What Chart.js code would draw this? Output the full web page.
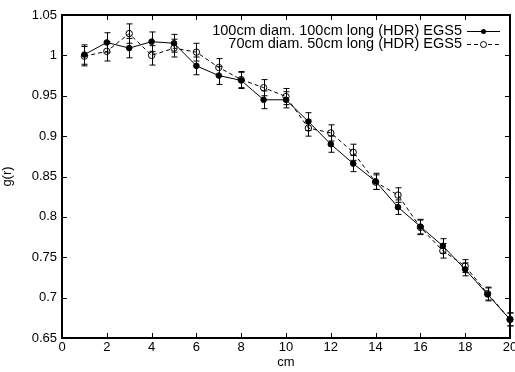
<!DOCTYPE html>
<html>
<head>
<meta charset="utf-8">
<script src="https://cdn.jsdelivr.net/npm/chart.js@4/dist/chart.umd.min.js"></script>
<style>
  html, body { margin: 0; padding: 0; background: #fff; }
  #wrap { width: 515px; height: 372px; }
</style>
</head>
<body>
<div id="wrap"><canvas id="gr"></canvas></div>
<script>
const distances = [1, 2, 3, 4, 5, 6, 7, 8, 9, 10, 11, 12, 13, 14, 15, 16, 17, 18, 19, 20];
const g100 = [1.001, 1.016, 1.009, 1.017, 1.015, 0.987, 0.975, 0.969, 0.945, 0.945,
              0.918, 0.890, 0.866, 0.844, 0.812, 0.788, 0.764, 0.735, 0.704, 0.673];
const err100 = [0.012, 0.012, 0.012, 0.012, 0.011, 0.011, 0.011, 0.010, 0.011, 0.010,
                0.011, 0.010, 0.010, 0.010, 0.009, 0.009, 0.009, 0.008, 0.008, 0.008];
const g70 = [0.999, 1.005, 1.027, 1.000, 1.009, 1.004, 0.985, 0.970, 0.960, 0.949,
             0.910, 0.904, 0.880, 0.843, 0.827, 0.787, 0.758, 0.739, 0.705, 0.673];
const err70 = [0.012, 0.012, 0.012, 0.012, 0.011, 0.011, 0.011, 0.010, 0.010, 0.010,
               0.010, 0.010, 0.010, 0.009, 0.009, 0.009, 0.009, 0.008, 0.008, 0.008];
const xTicks = [0, 2, 4, 6, 8, 10, 12, 14, 16, 18, 20];
const yTicks = ['0.65', '0.7', '0.75', '0.8', '0.85', '0.9', '0.95', '1', '1.05'];
const seriesNames = ['100cm diam. 100cm long (HDR) EGS5', '70cm diam. 50cm long (HDR) EGS5'];

const FONT = 'Liberation Sans, Arial, sans-serif';
const INK = '#000';

// error bars drawn through the chart's scales
const errorBars = {
  id: 'errorBars',
  afterDatasetsDraw(chart) {
    const ctx = chart.ctx;
    const xs = chart.scales.x, ys = chart.scales.y;
    const errs = [err100, err70];
    ctx.save();
    ctx.strokeStyle = INK;
    ctx.lineWidth = 1;
    chart.data.datasets.forEach((ds, d) => {
      ds.data.forEach((p, i) => {
        const px = Math.round(xs.getPixelForValue(p.x)) + 0.5;
        const top = ys.getPixelForValue(p.y + errs[d][i]);
        const bot = ys.getPixelForValue(p.y - errs[d][i]);
        ctx.beginPath();
        ctx.moveTo(px, top); ctx.lineTo(px, bot);
        ctx.moveTo(px - 3, top); ctx.lineTo(px + 3, top);
        ctx.moveTo(px - 3, bot); ctx.lineTo(px + 3, bot);
        ctx.stroke();
      });
    });
    ctx.restore();
  }
};

// gnuplot style frame with inward ticks on all sides, plus the key
const frame = {
  id: 'frame',
  afterDraw(chart) {
    const ctx = chart.ctx;
    const a = chart.chartArea;
    const xs = chart.scales.x, ys = chart.scales.y;
    ctx.save();
    ctx.strokeStyle = INK;
    ctx.lineWidth = 1;
    ctx.beginPath();
    xTicks.forEach(v => {
      const px = Math.round(xs.getPixelForValue(v)) + 0.5;
      ctx.moveTo(px, a.bottom); ctx.lineTo(px, a.bottom - 5);
      ctx.moveTo(px, a.top); ctx.lineTo(px, a.top + 5);
    });
    yTicks.forEach(t => {
      const py = Math.round(ys.getPixelForValue(parseFloat(t))) + 0.5;
      ctx.moveTo(a.left, py); ctx.lineTo(a.left + 5, py);
      ctx.moveTo(a.right, py); ctx.lineTo(a.right - 5, py);
    });
    ctx.stroke();
    ctx.lineWidth = 2;
    ctx.strokeRect(a.left, a.top, a.right - a.left, a.bottom - a.top);

    // key
    ctx.font = '14.5px ' + FONT;
    ctx.fillStyle = INK;
    ctx.textAlign = 'right';
    ctx.textBaseline = 'middle';
    const keyY = [a.top + 16, a.top + 29];
    const textRight = 462, lineL = 467, lineR = 500;
    seriesNames.forEach((name, i) => {
      ctx.fillText(name, textRight, keyY[i]);
      ctx.lineWidth = 1;
      ctx.setLineDash(i === 0 ? [] : [4, 3]);
      ctx.beginPath();
      ctx.moveTo(lineL, keyY[i] + 0.5); ctx.lineTo(lineR, keyY[i] + 0.5);
      ctx.stroke();
      ctx.setLineDash([]);
      ctx.beginPath();
      const mx = (lineL + lineR) / 2;
      if (i === 0) {
        ctx.arc(mx, keyY[i] + 0.5, 2.5, 0, Math.PI * 2);
        ctx.fill();
      } else {
        ctx.fillStyle = '#fff';
        ctx.arc(mx, keyY[i] + 0.5, 3, 0, Math.PI * 2);
        ctx.fill();
        ctx.stroke();
        ctx.fillStyle = INK;
      }
    });
    ctx.restore();
  }
};

const ctx = document.getElementById('gr').getContext('2d');
new Chart(ctx, {
  type: 'line',
  data: {
    datasets: [{
      label: seriesNames[0],
      data: distances.map((x, i) => ({ x: x, y: g100[i] })),
      borderColor: INK,
      backgroundColor: INK,
      borderWidth: 1,
      pointRadius: 2.8,
      pointBorderWidth: 1,
      pointBackgroundColor: INK,
      tension: 0,
      clip: false
    }, {
      label: seriesNames[1],
      data: distances.map((x, i) => ({ x: x, y: g70[i] })),
      borderColor: INK,
      borderWidth: 1,
      borderDash: [4, 3],
      pointRadius: 3.2,
      pointBorderWidth: 1,
      pointBackgroundColor: 'rgba(255,255,255,0)',
      tension: 0,
      clip: false
    }]
  },
  options: {
    responsive: true,
    maintainAspectRatio: false,
    animation: false,
    layout: { padding: { top: 15, right: 4, left: 0, bottom: 0 } },
    plugins: {
      legend: { display: false },
      tooltip: { enabled: false }
    },
    scales: {
      x: {
        type: 'linear',
        min: 0,
        max: 20,
        afterBuildTicks: s => { s.ticks = xTicks.map(v => ({ value: v })); },
        afterFit: s => { s.height = 34; s.paddingLeft = 0; s.paddingRight = 0; },
        grid: { display: false, drawTicks: false },
        border: { display: false },
        ticks: { color: INK, font: { family: FONT, size: 13 }, padding: 2, maxRotation: 0, autoSkip: false },
        title: { display: true, text: 'cm', color: INK, font: { family: FONT, size: 13 }, padding: { top: 0, bottom: 2 } }
      },
      y: {
        min: 0.65,
        max: 1.05,
        afterBuildTicks: s => { s.ticks = yTicks.map(t => ({ value: parseFloat(t) })); },
        afterFit: s => { s.width = 62; s.paddingTop = 0; s.paddingBottom = 0; },
        grid: { display: false, drawTicks: false },
        border: { display: false },
        ticks: {
          color: INK,
          font: { family: FONT, size: 13 },
          padding: 5,
          autoSkip: false,
          callback: (v, i) => yTicks[i]
        },
        title: { display: true, text: 'g(r)', color: INK, font: { family: FONT, size: 13 }, padding: { top: 0, bottom: 0 } }
      }
    }
  },
  plugins: [errorBars, frame]
});
</script>
</body>
</html>
